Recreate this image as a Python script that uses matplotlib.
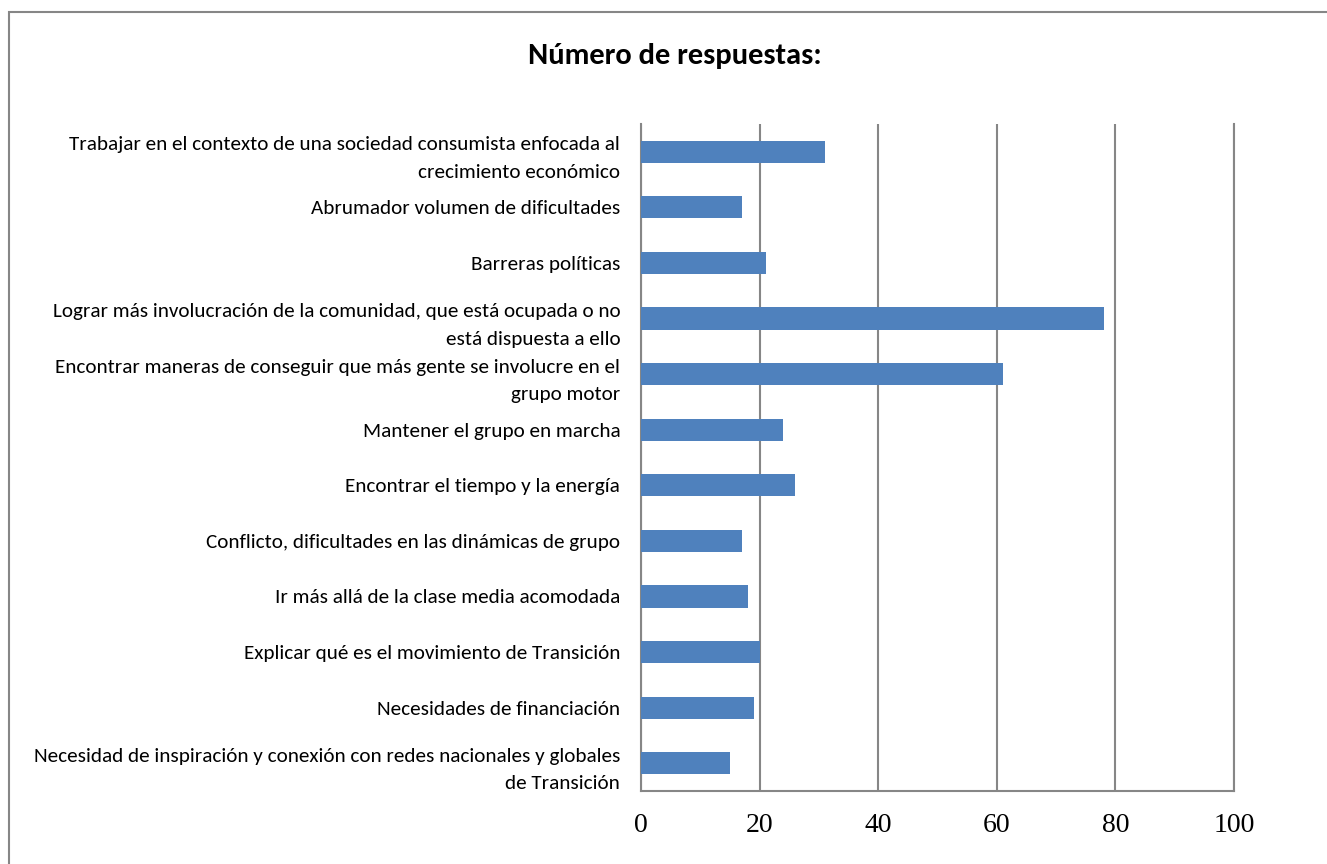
import matplotlib
matplotlib.use('Agg')
import matplotlib.pyplot as plt
from matplotlib.patches import Rectangle

# categorias (de arriba a abajo) y numero de respuestas
categorias = [
    'Trabajar en el contexto de una sociedad consumista enfocada al\ncrecimiento económico',
    'Abrumador volumen de dificultades',
    'Barreras políticas',
    'Lograr más involucración de la comunidad, que está ocupada o no\nestá dispuesta a ello',
    'Encontrar maneras de conseguir que más gente se involucre en el\ngrupo motor',
    'Mantener el grupo en marcha',
    'Encontrar el tiempo y la energía',
    'Conflicto, dificultades en las dinámicas de grupo',
    'Ir más allá de la clase media acomodada',
    'Explicar qué es el movimiento de Transición',
    'Necesidades de financiación',
    'Necesidad de inspiración y conexión con redes nacionales y globales\nde Transición',
]
respuestas = [31, 17, 21, 78, 61, 24, 26, 17, 18, 20, 19, 15]
ticks_x = [0, 20, 40, 60, 80, 100]

gris = '#868686'
azul = '#4F81BD'
fuente = ['Carlito', 'Lato', 'DejaVu Sans']

fig = plt.figure(figsize=(13.27, 8.64), dpi=100)
ax = fig.add_axes([641/1327, 1 - 791/864, (1234-641)/1327, (791-124)/864])

y = range(len(categorias))
ax.barh(y, respuestas, height=0.4, color=azul, zorder=3)
ax.set_ylim(len(categorias) - 0.5, -0.5)
ax.set_xlim(0, 100)

ax.set_yticks(list(y))
ax.set_yticklabels(categorias, fontsize=15.2, family=fuente, linespacing=1.75)
ax.set_xticks(ticks_x)
ax.set_xticklabels([str(t) for t in ticks_x], fontsize=20, family='Liberation Serif')
ax.tick_params(axis='y', length=0, pad=15)
ax.tick_params(axis='x', length=0, pad=16)

ax.grid(axis='x', color=gris, linewidth=1.5, zorder=0)
ax.spines['top'].set_visible(False)
for s in ['left', 'bottom', 'right']:
    ax.spines[s].set_color(gris)
    ax.spines[s].set_linewidth(1.5)

fig.text(675/1327, 1 - 56/864, 'Número de respuestas:', ha='center', va='center',
         fontsize=22, fontweight='bold', family=fuente)

# marco del grafico
fig.patches.append(Rectangle((9/1327, -0.1), 1.2, 1 - 12/864 + 0.1, transform=fig.transFigure,
                             fill=False, edgecolor=gris, linewidth=1.5))

fig.savefig('out.png', dpi=100)
